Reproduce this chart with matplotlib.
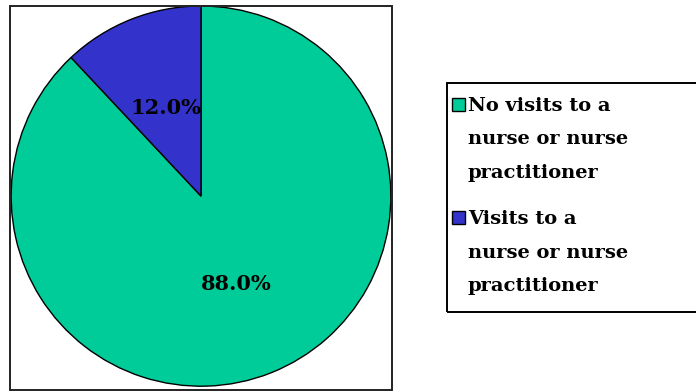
import matplotlib.pyplot as plt
import matplotlib.patches as patches

# share of respondents by nurse / nurse practitioner visits
labels_l = [
    "No visits to a\nnurse or nurse\npractitioner",
    "Visits to a\nnurse or nurse\npractitioner",
]
shares_l = [88.0, 12.0]
colors_l = ["#00CC99", "#3333CC"]

W, H = 696, 391
fig = plt.figure(figsize=(W / 100, H / 100), dpi=100)
ax = fig.add_axes([10 / W, 1 - 390 / H, 382 / W, 384 / H])

wedges, texts, autotexts = ax.pie(
    shares_l,
    colors=colors_l,
    startangle=90,
    counterclock=False,
    autopct="%.1f%%",
    pctdistance=0.5,
    wedgeprops={"edgecolor": "black", "linewidth": 1.0},
    textprops={"family": "DejaVu Serif", "weight": "bold", "fontsize": 15},
)
ax.set_xlim(-1.006, 1.006)
ax.set_ylim(-1.02, 1.0)
ax.set_aspect("auto")


def px(x, y):
    # pixel position (from top-left) -> figure fraction
    return x / W, 1 - y / H


# plot frame around the pie
fig.add_artist(patches.Rectangle(
    px(10, 390), 382 / W, 384 / H,
    transform=fig.transFigure, fill=False, edgecolor="#222222", linewidth=1.4,
))

# hand-built legend: box, swatches, three-line labels
fig.add_artist(patches.Rectangle(
    px(447, 312), 260 / W, 229 / H,
    transform=fig.transFigure, fill=False, edgecolor="black", linewidth=1.4,
))
entry_top_l = [98, 211]
for idx_i, label_s in enumerate(labels_l):
    top_f = entry_top_l[idx_i]
    fig.add_artist(patches.Rectangle(
        px(452, top_f + 13), 13 / W, 13 / H,
        transform=fig.transFigure, facecolor=colors_l[idx_i],
        edgecolor="black", linewidth=1.0,
    ))
    x_f, y_f = px(468, top_f + 6.5 + 35)
    fig.text(
        x_f, y_f, label_s, ha="left", va="center",
        family="DejaVu Serif", weight="bold", fontsize=14, linespacing=2.1,
    )

fig.savefig("out.png", dpi=100)
